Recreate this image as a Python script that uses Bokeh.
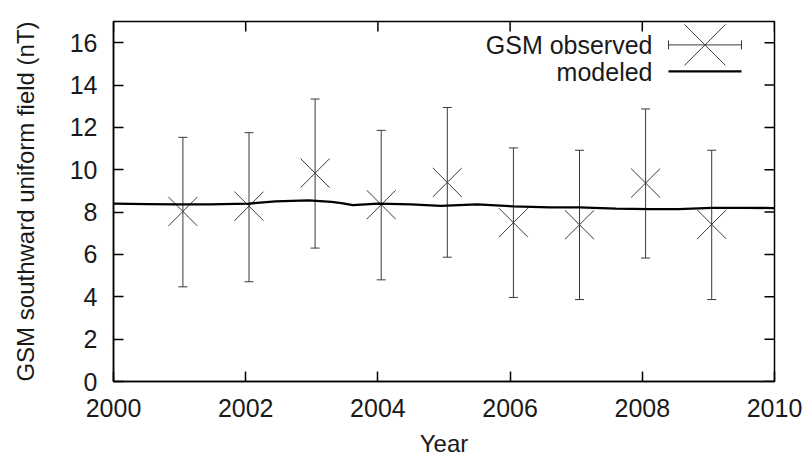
import math
from bokeh.plotting import figure
from bokeh.models import (ColumnDataSource, Whisker, TeeHead, Range1d, LinearAxis,
                          FixedTicker, Label, Arrow)
from bokeh.embed import file_html
from bokeh.resources import INLINE

# ---- data ----
obs_year = [2001.05, 2002.05, 2003.05, 2004.05, 2005.05, 2006.05, 2007.05, 2008.05, 2009.05]
obs_value = [8.03, 8.28, 9.84, 8.35, 9.40, 7.50, 7.40, 9.37, 7.42]
obs_upper = [11.53, 11.75, 13.34, 11.86, 12.94, 11.03, 10.92, 12.87, 10.92]
obs_lower = [4.47, 4.71, 6.30, 4.80, 5.87, 3.97, 3.87, 5.83, 3.87]

model_year = [2000.0, 2000.5, 2000.95, 2001.45, 2002.05, 2002.45, 2002.95, 2003.3,
              2003.45, 2003.62, 2004.0, 2004.5, 2004.95, 2005.5, 2006.05, 2006.6,
              2007.05, 2007.6, 2008.1, 2008.55, 2009.05, 2009.6, 2010.0]
model_value = [8.40, 8.38, 8.36, 8.36, 8.40, 8.51, 8.55, 8.48,
               8.42, 8.33, 8.40, 8.36, 8.29, 8.36, 8.27, 8.22,
               8.22, 8.16, 8.14, 8.14, 8.20, 8.20, 8.19]

x_ticks = [2000, 2002, 2004, 2006, 2008, 2010]
y_ticks = [0, 2, 4, 6, 8, 10, 12, 14, 16]
x_lim = (2000, 2010)
y_lim = (0, 17)

FONT = "Liberation Sans"
FS = "25px"
ERR_COLOR = "#3a3a3a"
TEXT_COLOR = "#1a1a1a"

p = figure(width=808, height=459, output_backend="svg", toolbar_location=None,
           x_range=Range1d(*x_lim), y_range=Range1d(*y_lim),
           min_border_left=113, min_border_right=34, min_border_top=21,
           min_border_bottom=78, x_axis_location=None, y_axis_location=None)
p.xgrid.visible = False
p.ygrid.visible = False
p.outline_line_color = "black"
p.outline_line_width = 1.5
p.background_fill_color = "white"
p.border_fill_color = "white"


def style_axis(ax):
    ax.major_tick_in = 10
    ax.major_tick_out = 0
    ax.minor_tick_line_color = None
    ax.axis_line_color = "black"
    ax.axis_line_width = 1.5
    ax.major_tick_line_color = "black"
    ax.major_tick_line_width = 1.5
    ax.major_label_text_font = FONT
    ax.major_label_text_font_size = FS
    ax.major_label_text_color = TEXT_COLOR
    ax.axis_label_text_font = FONT
    ax.axis_label_text_font_style = "normal"
    ax.axis_label_text_font_size = "24px"
    ax.axis_label_text_color = TEXT_COLOR


xb = LinearAxis(ticker=FixedTicker(ticks=x_ticks), axis_label="Year")
style_axis(xb)
xb.major_label_standoff = 17
xb.axis_label_standoff = 10
p.add_layout(xb, "below")

yl = LinearAxis(ticker=FixedTicker(ticks=y_ticks),
                axis_label="GSM southward uniform field (nT)")
style_axis(yl)
yl.major_label_standoff = 16
yl.axis_label_standoff = 28
p.add_layout(yl, "left")

# mirrored inward ticks on top and right edges (dash markers clipped by the frame)
p.scatter(x_ticks, [y_lim[1]] * len(x_ticks), marker="dash", size=20,
          angle=math.pi / 2, line_color="black", line_width=1.5)
p.scatter([x_lim[1]] * len(y_ticks), y_ticks, marker="dash", size=20,
          line_color="black", line_width=1.5)

src = ColumnDataSource(dict(x=obs_year, y=obs_value, upper=obs_upper, lower=obs_lower))

w = Whisker(base="x", upper="upper", lower="lower", source=src, dimension="height",
            line_color=ERR_COLOR, line_width=1,
            upper_head=TeeHead(size=9, line_color=ERR_COLOR, line_width=1),
            lower_head=TeeHead(size=9, line_color=ERR_COLOR, line_width=1))
p.add_layout(w)

p.scatter("x", "y", source=src, marker="x", size=41, line_color=ERR_COLOR, line_width=1)

p.line(model_year, model_value, line_color="black", line_width=2.3)

# ---- legend (gnuplot style: text left, sample right), screen units relative to frame ----
lab_kw = dict(x_units="screen", y_units="screen", text_font=FONT, text_font_size=FS,
              text_color=TEXT_COLOR, text_align="right", text_baseline="alphabetic")
p.add_layout(Label(x=539, y=336.6, text="GSM observed", **lab_kw))
p.add_layout(Label(x=539, y=309.9, text="modeled", **lab_kw))

sx0, sx1, sy_obs, sy_mod = 555, 628, 336.6, 310.2
mx, mr = 591.5, 20.5
p.add_layout(Arrow(x_start=sx0, y_start=sy_obs, x_end=sx1, y_end=sy_obs,
                   start_units="screen", end_units="screen",
                   start=TeeHead(size=9, line_color=ERR_COLOR, line_width=1),
                   end=TeeHead(size=9, line_color=ERR_COLOR, line_width=1),
                   line_color=ERR_COLOR, line_width=1))
p.add_layout(Arrow(x_start=mx - mr, y_start=sy_obs - mr, x_end=mx + mr, y_end=sy_obs + mr,
                   start_units="screen", end_units="screen", end=None,
                   line_color=ERR_COLOR, line_width=1))
p.add_layout(Arrow(x_start=mx - mr, y_start=sy_obs + mr, x_end=mx + mr, y_end=sy_obs - mr,
                   start_units="screen", end_units="screen", end=None,
                   line_color=ERR_COLOR, line_width=1))
p.add_layout(Arrow(x_start=sx0, y_start=sy_mod, x_end=sx1, y_end=sy_mod,
                   start_units="screen", end_units="screen", end=None,
                   line_color="black", line_width=2.3))

open("out.html", "w").write(file_html(p, INLINE))
